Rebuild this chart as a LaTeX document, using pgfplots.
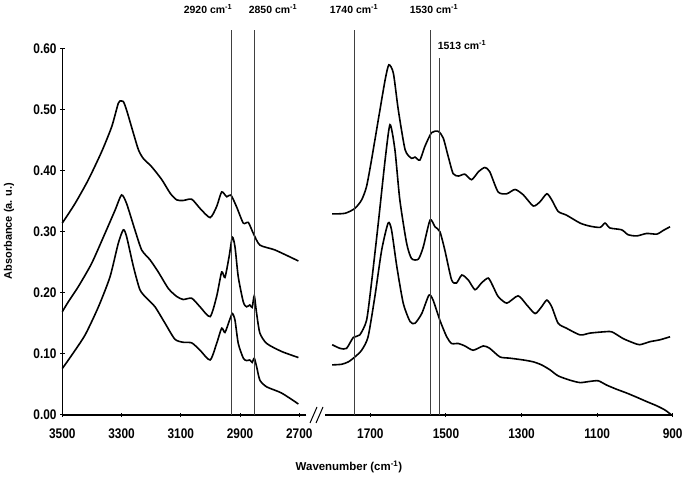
\documentclass[border=0pt]{standalone}
\usepackage{pgfplots}
\pgfplotsset{compat=1.18}
\usepackage{fontspec}
\setmainfont{Liberation Sans}
\newfontfamily\tickfont[FakeStretch=0.85]{Liberation Sans}
\tikzset{vl/.style={black!75, line width=0.7bp}}

\begin{document}
\begin{tikzpicture}
\path[use as bounding box] (0bp,0bp) rectangle (685bp,479bp);
\pgfplotsset{
 every axis/.append style={
  scale only axis, height=366.7bp, ymin=0, ymax=0.6, x dir=reverse,
  tick style={line width=1bp, black}, tick align=outside, major tick length=4.5bp,
  clip=false,
  tick label style={font=\tickfont\bfseries\fontsize{14}{16}\selectfont},
  /pgf/number format/assume math mode=true,
  /pgf/number format/set thousands separator={},
  xticklabel style={yshift=-8bp},
 },
 spec/.style={black, line width=1.6bp, smooth, tension=0.4, mark=none},
}
% ---------------- left panel ----------------
\begin{axis}[at={(62.3bp,64bp)}, anchor=south west, width=244.1bp,
  xmin=2676, xmax=3500, axis x line=bottom, axis y line=left,
  x axis line style={line width=1.2bp, -}, y axis line style={line width=1.2bp, -},
  xtick={2700,2900,3100,3300,3500},
  ytick={0,0.1,0.2,0.3,0.4,0.5,0.6},
  yticklabel style={/pgf/number format/.cd, fixed, fixed zerofill, precision=2}]
\addplot[spec] coordinates {
(3500,0.314)(3457,0.346)(3412,0.385)(3367,0.431)(3333,0.472)(3311,0.510)(3302,0.514)(3294,0.513)
(3283,0.499)(3260,0.461)(3243,0.434)(3227,0.420)(3198,0.406)(3164,0.385)(3136,0.363)(3114,0.352)
(3092,0.351)(3063,0.353)(3035,0.338)(3001,0.323)(2979,0.341)(2962,0.365)(2945,0.357)(2931,0.360)
(2912,0.341)(2889,0.314)(2872,0.315)(2855,0.297)(2833,0.278)(2782,0.270)(2703,0.252)};
\addplot[spec] coordinates {
(3500,0.169)(3480,0.185)(3446,0.210)(3401,0.248)(3356,0.297)(3322,0.335)(3300,0.360)(3283,0.346)
(3255,0.303)(3232,0.270)(3204,0.254)(3176,0.234)(3142,0.207)(3114,0.194)(3092,0.189)(3063,0.191)
(3035,0.177)(3001,0.161)(2979,0.194)(2962,0.234)(2951,0.225)(2937,0.259)(2926,0.291)(2917,0.275)
(2906,0.226)(2889,0.185)(2878,0.177)(2867,0.180)(2859,0.176)(2852,0.195)(2844,0.166)(2833,0.134)
(2810,0.117)(2760,0.104)(2703,0.094)};
\addplot[spec] coordinates {
(3500,0.076)(3468,0.098)(3423,0.131)(3378,0.177)(3339,0.226)(3311,0.281)(3294,0.303)(3283,0.292)
(3260,0.243)(3238,0.205)(3215,0.191)(3187,0.177)(3153,0.150)(3120,0.124)(3092,0.119)(3063,0.118)
(3035,0.106)(3001,0.090)(2979,0.117)(2962,0.142)(2951,0.135)(2937,0.153)(2926,0.166)(2917,0.155)
(2906,0.117)(2889,0.093)(2878,0.089)(2867,0.090)(2859,0.086)(2852,0.093)(2844,0.079)(2833,0.057)
(2810,0.046)(2760,0.036)(2703,0.018)};
\draw[vl] (axis cs:2929,0) -- (axis cs:2929,0.630);
\draw[vl] (axis cs:2853,0) -- (axis cs:2853,0.630);
\end{axis}
% ---------------- right panel ----------------
\begin{axis}[at={(325bp,64bp)}, anchor=south west, width=347.7bp,
  xmin=900, xmax=1820, axis x line=bottom, axis y line=none,
  x axis line style={line width=1.2bp, -},
  xtick={900,1100,1300,1500,1700}]
\addplot[spec] coordinates {
(1801,0.329)(1767,0.330)(1741,0.338)(1723,0.352)(1710,0.374)(1697,0.417)(1679,0.483)(1661,0.548)
(1651,0.573)(1639,0.559)(1626,0.499)(1608,0.434)(1591,0.420)(1582,0.422)(1569,0.417)(1556,0.439)
(1538,0.462)(1520,0.464)(1507,0.453)(1494,0.423)(1481,0.395)(1467,0.391)(1450,0.394)(1432,0.385)
(1414,0.398)(1397,0.405)(1384,0.398)(1362,0.365)(1339,0.362)(1317,0.369)(1295,0.360)(1269,0.342)
(1251,0.349)(1233,0.362)(1220,0.352)(1203,0.333)(1181,0.327)(1145,0.314)(1119,0.309)(1092,0.307)
(1079,0.314)(1066,0.306)(1035,0.303)(1018,0.295)(995,0.293)(969,0.297)(942,0.296)(925,0.302)(907,0.308)};
\addplot[spec] coordinates {
(1801,0.115)(1780,0.109)(1763,0.109)(1745,0.127)(1728,0.131)(1710,0.155)(1697,0.216)(1679,0.314)
(1661,0.417)(1648,0.475)(1635,0.434)(1622,0.352)(1604,0.281)(1591,0.256)(1573,0.255)(1560,0.275)
(1542,0.319)(1529,0.308)(1516,0.300)(1503,0.270)(1485,0.221)(1472,0.216)(1458,0.229)(1441,0.221)
(1423,0.205)(1406,0.216)(1388,0.224)(1375,0.210)(1362,0.194)(1339,0.183)(1309,0.195)(1286,0.180)
(1264,0.166)(1247,0.177)(1233,0.188)(1220,0.177)(1203,0.150)(1181,0.142)(1145,0.131)(1119,0.134)
(1084,0.136)(1061,0.136)(1031,0.125)(1004,0.118)(987,0.115)(960,0.120)(934,0.123)(907,0.128)};
\addplot[spec] coordinates {
(1801,0.082)(1776,0.083)(1758,0.087)(1741,0.095)(1723,0.106)(1706,0.128)(1688,0.194)(1670,0.270)
(1653,0.314)(1644,0.303)(1630,0.243)(1613,0.183)(1595,0.153)(1582,0.150)(1564,0.166)(1545,0.196)
(1534,0.188)(1516,0.155)(1498,0.128)(1485,0.117)(1467,0.117)(1450,0.113)(1428,0.106)(1401,0.113)
(1384,0.109)(1357,0.095)(1331,0.093)(1295,0.090)(1269,0.087)(1247,0.082)(1225,0.074)(1203,0.064)
(1172,0.057)(1145,0.053)(1119,0.055)(1097,0.056)(1075,0.049)(1048,0.042)(1022,0.036)(995,0.029)
(969,0.022)(942,0.015)(920,0.008)(903,0.000)};
\draw[vl] (axis cs:1743,0) -- (axis cs:1743,0.630);
\draw[vl] (axis cs:1541,0) -- (axis cs:1541,0.630);
\draw[vl] (axis cs:1517,0) -- (axis cs:1517,0.584);
\end{axis}
% axis break
\draw[line width=1bp] (310bp,56bp) -- (317bp,72bp);
\draw[line width=1bp] (316bp,56bp) -- (323bp,72bp);
% annotations
\begin{scope}[every node/.style={font=\bfseries\fontsize{10.5}{12}\selectfont}]
\node at (208bp,470bp) {2920 cm\textsuperscript{-1}};
\node at (273bp,470bp) {2850 cm\textsuperscript{-1}};
\node at (354bp,470bp) {1740 cm\textsuperscript{-1}};
\node at (434bp,470bp) {1530 cm\textsuperscript{-1}};
\node at (462bp,434bp) {1513 cm\textsuperscript{-1}};
\end{scope}
\node[font=\bfseries\fontsize{11.5}{13}\selectfont] at (349bp,12bp) {Wavenumber (cm\textsuperscript{-1})};
\node[rotate=90, font=\bfseries\fontsize{11}{13}\selectfont] at (9bp,248bp) {Absorbance (a. u.)};
\end{tikzpicture}
\end{document}
